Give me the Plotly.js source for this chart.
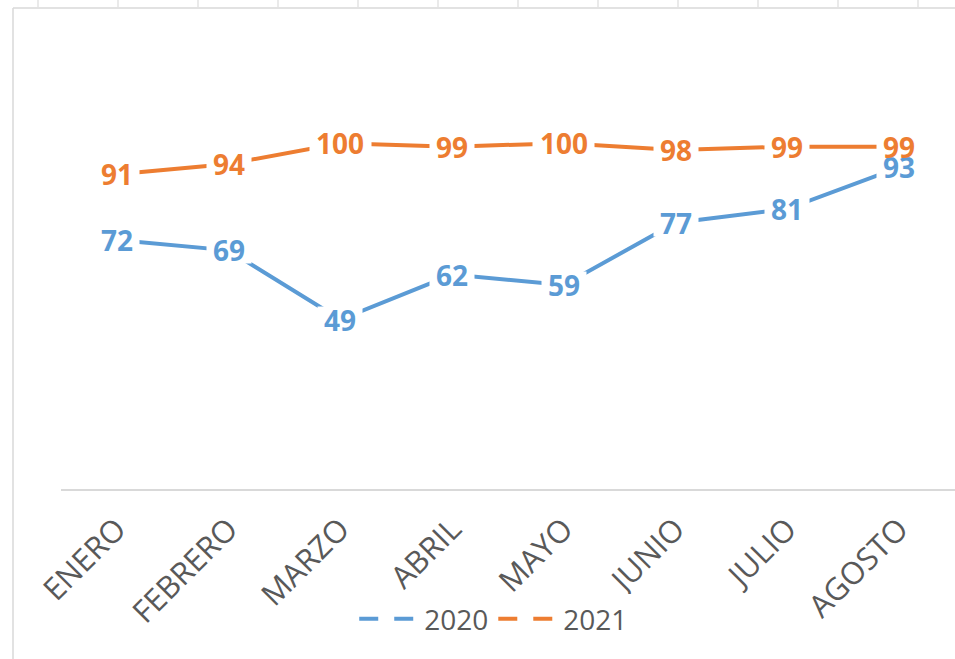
<!DOCTYPE html>
<html>
<head>
<meta charset="utf-8">
<script src="https://cdn.plot.ly/plotly-3.0.1.min.js"></script>
<style>
  body { margin: 0; background: #fff; }
  #chart { width: 955px; height: 659px; }
</style>
</head>
<body>
<div id="chart"></div>
<script>
// months on the x axis
var meses = ['ENERO', 'FEBRERO', 'MARZO', 'ABRIL', 'MAYO', 'JUNIO', 'JULIO', 'AGOSTO'];
// values per year
var valores2020 = [72, 69, 49, 62, 59, 77, 81, 93];
var valores2021 = [91, 94, 100, 99, 100, 98, 99, 99];

var azul = '#5B9BD5';
var naranja = '#ED7D31';
var gris = '#595959';

// plot area in pixels, used to place the frame decorations
var L = 61, R = 0, T = 74, B = 170, W = 955, H = 659;
function px(x) { return (x - L) / (W - L - R); }
function py(y) { return (H - B - y) / (H - B - T); }

var lineas = [
  { x: meses, y: valores2020, type: 'scatter', mode: 'lines', showlegend: false,
    line: { color: azul, width: 4 }, hoverinfo: 'skip' },
  { x: meses, y: valores2021, type: 'scatter', mode: 'lines', showlegend: false,
    line: { color: naranja, width: 4 }, hoverinfo: 'skip' },
  // legend entries only (dashed sample like the original)
  { x: [null], y: [null], type: 'scatter', mode: 'lines', name: '2020',
    line: { color: azul, width: 4, dash: '19px,16px' } },
  { x: [null], y: [null], type: 'scatter', mode: 'lines', name: '2021',
    line: { color: naranja, width: 4, dash: '19px,16px' } }
];

// data labels: first white boxes that hide the line under the label,
// then the numbers on top so close labels (93 / 99) both stay readable
var fondos = [];
var etiquetas = [];
function addLabels(vals, color) {
  vals.forEach(function (v, i) {
    var t = String(v);
    fondos.push({
      x: meses[i], y: v, text: ' ', showarrow: false,
      xanchor: 'center', yanchor: 'middle',
      width: t.length * 17 + 10, height: 26, borderpad: 0,
      bgcolor: '#ffffff'
    });
    etiquetas.push({
      x: meses[i], y: v, text: t, showarrow: false,
      xanchor: 'center', yanchor: 'middle',
      font: { family: 'Open Sans', size: 28, color: color, weight: 'bold' }
    });
  });
}
addLabels(valores2020, azul);
addLabels(valores2021, naranja);

// chart frame and spreadsheet column marks
var formas = [
  { type: 'line', xref: 'paper', yref: 'paper', x0: px(13), x1: px(13), y0: py(8), y1: py(H),
    line: { color: '#d9d9d9', width: 1.5 } },
  { type: 'line', xref: 'paper', yref: 'paper', x0: px(13), x1: px(W), y0: py(8), y1: py(8),
    line: { color: '#d9d9d9', width: 1.5 } }
];
for (var c = 38; c < W; c += 80) {
  formas.push({ type: 'line', xref: 'paper', yref: 'paper', x0: px(c), x1: px(c), y0: py(0), y1: py(7),
    line: { color: '#e3e3e3', width: 1.5 } });
}

var layout = {
  width: W, height: H,
  margin: { l: L, r: R, t: T, b: B },
  paper_bgcolor: '#ffffff', plot_bgcolor: '#ffffff',
  font: { family: 'Open Sans', color: gris },
  showlegend: true,
  legend: {
    orientation: 'h', xref: 'container', yref: 'container',
    x: 0.517, xanchor: 'center', y: 1 - 619 / H, yanchor: 'middle',
    font: { size: 28, color: gris }, itemwidth: 60
  },
  xaxis: {
    type: 'category', range: [-0.5, 7.5], showline: true, linecolor: '#d9d9d9', linewidth: 1.5,
    showgrid: false, zeroline: false, ticks: '', tickangle: -45, ticklabelstandoff: 8,
    tickfont: { size: 31, color: gris }, fixedrange: true
  },
  yaxis: {
    range: [0, 120], visible: false, showgrid: false, zeroline: false, fixedrange: true
  },
  annotations: fondos.concat(etiquetas),
  shapes: formas
};

Plotly.newPlot('chart', lineas, layout, { displayModeBar: false, staticPlot: true });
</script>
</body>
</html>
